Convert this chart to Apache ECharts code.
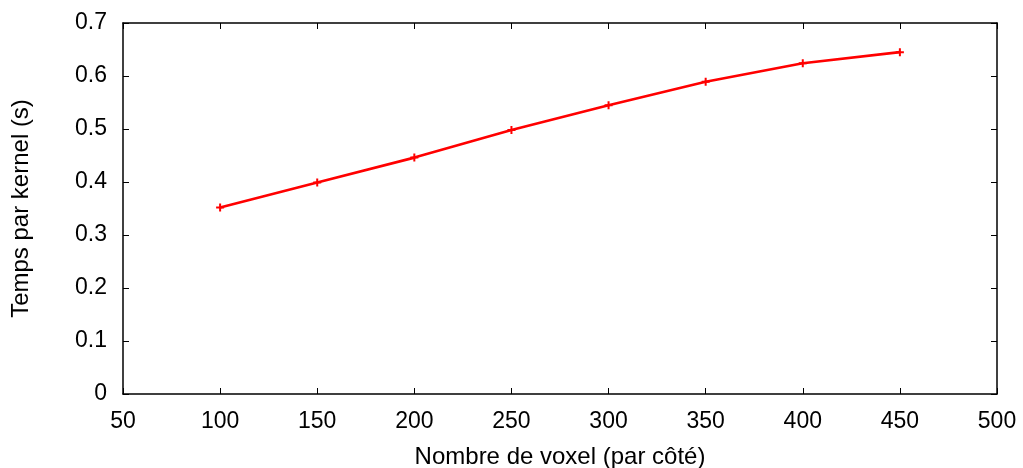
<!DOCTYPE html>
<html>
<head>
<meta charset="utf-8">
<script src="https://cdn.jsdelivr.net/npm/echarts@6/dist/echarts.min.js"></script>
<style>
  html, body { margin: 0; padding: 0; background: #fff; }
  #myChart { width: 1023px; height: 468px; }
</style>
</head>
<body>
<div id="myChart"></div>
<script>
// voxels per side
const voxels = [100, 150, 200, 250, 300, 350, 400, 450];
// time per kernel (s)
const kernelTime = [0.352, 0.399, 0.446, 0.498, 0.545, 0.589, 0.624, 0.645];

const chartDom = document.getElementById("myChart");
const myChart = echarts.init(chartDom);

const font = "'Liberation Sans', Arial, sans-serif";
const plus = "path://M3,0 L5,0 L5,3 L8,3 L8,5 L5,5 L5,8 L3,8 L3,5 L0,5 L0,3 L3,3 Z";

const axisBase = {
  axisLine: { show: true, onZero: false, lineStyle: { color: "#000", width: 1.5 } },
  axisTick: { show: true, inside: true, length: 6, lineStyle: { color: "#000", width: 1 } },
  splitLine: { show: false },
};

const option = {
  animation: false,
  backgroundColor: "#fff",
  grid: { left: 123, right: 26, top: 23, bottom: 74, outerBoundsMode: "none", containLabel: false },
  xAxis: [
    {
      ...axisBase,
      type: "value",
      min: 50,
      max: 500,
      interval: 50,
      name: "Nombre de voxel (par côté)",
      nameLocation: "middle",
      nameGap: 51,
      nameTextStyle: { fontFamily: font, fontSize: 24, color: "#000" },
      axisLabel: { fontFamily: font, fontSize: 23, color: "#000", margin: 16 },
    },
    {
      ...axisBase,
      type: "value",
      position: "top",
      min: 50,
      max: 500,
      interval: 50,
      axisLabel: { show: false },
    },
  ],
  yAxis: [
    {
      ...axisBase,
      type: "value",
      min: 0,
      max: 0.7,
      interval: 0.1,
      name: "Temps par kernel (s)",
      nameLocation: "middle",
      nameGap: 90,
      nameTextStyle: { fontFamily: font, fontSize: 24, color: "#000" },
      axisLabel: {
        fontFamily: font,
        fontSize: 23,
        color: "#000",
        margin: 16,
        formatter: (v) => (v === 0 ? "0" : v.toFixed(1)),
      },
    },
    {
      ...axisBase,
      type: "value",
      position: "right",
      min: 0,
      max: 0.7,
      interval: 0.1,
      axisLabel: { show: false },
    },
  ],
  series: [
    {
      type: "line",
      data: voxels.map((v, i) => [v, kernelTime[i]]),
      lineStyle: { color: "#ff0000", width: 2.6 },
      itemStyle: { color: "#ff0000" },
      symbol: plus,
      symbolSize: 8,
      showSymbol: true,
    },
  ],
};

myChart.setOption(option);
</script>
</body>
</html>
